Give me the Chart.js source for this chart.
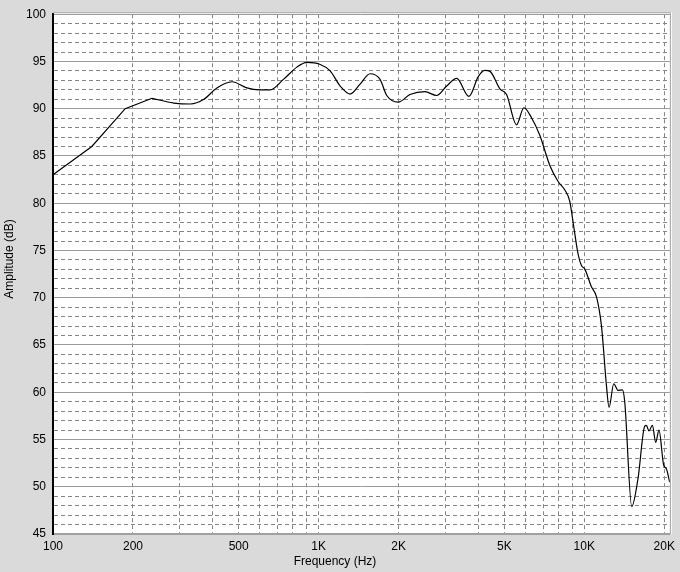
<!DOCTYPE html>
<html>
<head>
<meta charset="utf-8">
<script src="https://cdn.jsdelivr.net/npm/chart.js@4/dist/chart.umd.min.js"></script>
<style>
html,body{margin:0;padding:0;background:#dadada;}
#wrap{width:680px;height:572px;}
</style>
</head>
<body>
<div id="wrap"><canvas id="c" width="680" height="572"></canvas></div>
<script>
// Frequency (Hz) and amplitude (dB)
const freqs = [100,140,187,236,285,329,370,414,472,537,600,657,737,828,903,1010,1105,1205,1313,1432,
  1562,1703,1805,1995,2208,2514,2781,3034,3308,3681,3990,4227,4416,4812,5099,5560,5925,6314,6800,7420,
  7970,8450,8820,9130,9480,9760,10040,10640,11120,11610,12120,12400,12910,13400,13920,14200,15090,15940,16880,17130,
  17520,18050,18580,19110,19900,20370,20960];
const amps = [83.0,86.0,90.0,91.1,90.6,90.5,91.0,92.2,92.85,92.2,92.0,92.0,93.1,94.4,94.9,94.7,94.0,92.4,91.55,92.6,
  93.7,93.1,91.4,90.7,91.5,91.8,91.4,92.4,93.2,91.3,93.4,94.05,93.95,92.1,91.5,88.3,90.1,89.1,87.2,84.0,
  82.3,81.4,80.2,77.5,74.6,73.4,73.05,71.15,70.1,67.0,60.7,58.4,60.9,60.2,60.25,59.0,47.9,50.9,56.4,56.5,
  55.9,56.5,54.7,56.0,52.3,51.9,50.5];
// the low-frequency part of the curve is drawn with straight segments
const straightCount = 3;

const xGridValues = [100,200,300,400,500,600,700,800,900,1000,2000,3000,4000,5000,6000,7000,8000,9000,10000,20000];
const xLabelValues = [100,200,500,1000,2000,5000,10000,20000];
const xLabelText = ['100','200','500','1K','2K','5K','10K','20K'];
const yLabelValues = [45,50,55,60,65,70,75,80,85,90,95,100];
const xTitle = 'Frequency (Hz)';
const yTitle = 'Amplitude (dB)';

const FONT = '"Liberation Sans", Arial, sans-serif';
const BG = '#dadada';

const framePlugin = {
  id: 'frame',
  beforeDraw(chart) {
    const {ctx, chartArea: a} = chart;
    ctx.save();
    ctx.fillStyle = BG;
    ctx.fillRect(0, 0, chart.width, chart.height);
    ctx.fillStyle = '#ffffff';
    ctx.fillRect(a.left, a.top - 2, a.right - a.left + 2, a.bottom - a.top + 2);
    ctx.restore();
  },
  afterDraw(chart) {
    const {ctx, chartArea: a} = chart;
    ctx.save();
    ctx.strokeStyle = '#a0a0a0';
    ctx.lineWidth = 1;
    ctx.beginPath();
    ctx.moveTo(a.left, a.top - 1.5);
    ctx.lineTo(a.right + 0.5, a.top - 1.5);
    ctx.lineTo(a.right + 0.5, a.bottom);
    ctx.stroke();
    ctx.translate(10, 259);
    ctx.rotate(-Math.PI / 2);
    ctx.font = '12px ' + FONT;
    ctx.fillStyle = '#000';
    ctx.textAlign = 'center';
    ctx.textBaseline = 'middle';
    ctx.fillText(yTitle, 0, 0);
    ctx.restore();
  }
};

const points = freqs.map((f, i) => ({x: f, y: amps[i]}));

new Chart(document.getElementById('c'), {
  type: 'line',
  data: {
    datasets: [{
      data: points.slice(0, straightCount + 1),
      borderColor: '#000000',
      borderWidth: 1.2,
      pointRadius: 0,
      fill: false,
      tension: 0
    }, {
      data: points.slice(straightCount),
      borderColor: '#000000',
      borderWidth: 1.2,
      pointRadius: 0,
      fill: false,
      cubicInterpolationMode: 'monotone'
    }]
  },
  options: {
    responsive: false,
    animation: false,
    events: [],
    layout: {padding: {left: 0, top: 7, right: 10, bottom: 0}},
    plugins: {
      legend: {display: false},
      tooltip: {enabled: false},
      title: {
        display: true,
        position: 'bottom',
        text: xTitle,
        color: '#000',
        font: {family: FONT, size: 12, weight: 'normal'},
        padding: {top: 0, bottom: 3}
      }
    },
    scales: {
      x: {
        type: 'logarithmic',
        min: 100,
        max: 21000,
        afterBuildTicks: s => { s.ticks = xGridValues.map(v => ({value: v})); },
        afterFit: s => { s.height = 20.6; },
        ticks: {
          autoSkip: false,
          maxRotation: 0,
          minRotation: 0,
          padding: 5,
          color: '#000',
          font: {family: FONT, size: 12},
          callback: (v) => {
            const i = xLabelValues.indexOf(v);
            return i >= 0 ? xLabelText[i] : '';
          }
        },
        grid: {color: '#858585', lineWidth: 1, drawTicks: false},
        border: {color: '#a0a0a0', width: 2, dash: [4, 3]}
      },
      y: {
        type: 'linear',
        position: 'left',
        min: 45,
        max: 100,
        afterFit: s => { s.width = 53; },
        ticks: {
          stepSize: 1,
          autoSkip: false,
          padding: 7,
          color: '#000',
          font: {family: FONT, size: 12},
          callback: (v) => yLabelValues.includes(v) ? String(v) : ''
        },
        grid: {
          drawTicks: false,
          lineWidth: 1,
          color: (ctx) => (ctx.tick && yLabelValues.includes(ctx.tick.value)) ? 'rgba(0,0,0,0)' : '#858585'
        },
        border: {color: '#000', width: 2, dash: [4, 3]}
      },
      ySolid: {
        type: 'linear',
        position: 'left',
        min: 45,
        max: 100,
        afterFit: s => { s.width = 0; },
        afterBuildTicks: s => { s.ticks = yLabelValues.map(v => ({value: v})); },
        ticks: {display: false},
        grid: {drawTicks: false, color: '#9a9a9a', lineWidth: 1},
        border: {display: false}
      }
    }
  },
  plugins: [framePlugin]
});
</script>
</body>
</html>
